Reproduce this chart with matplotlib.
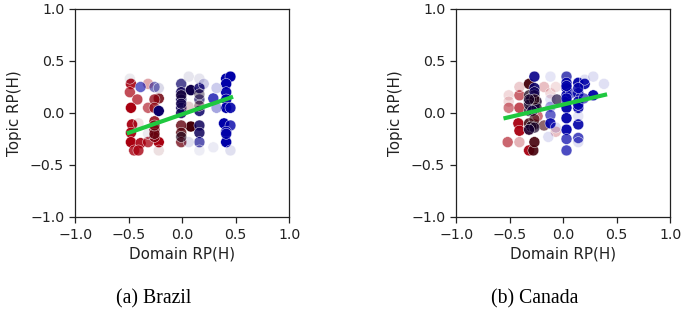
import numpy as np
import matplotlib
matplotlib.use("Agg")
import matplotlib.pyplot as plt
from matplotlib.colors import LinearSegmentedColormap

# tone : -1 red, 0 black, 1 blue
# Brazil
br_x = [-0.48,-0.49,-0.42,-0.48,-0.47,-0.48,-0.48,-0.39,-0.45,-0.41,-0.32,-0.32,-0.32,-0.22,-0.26,-0.26,-0.26,-0.22,-0.26,-0.26,
        -0.22,-0.01,-0.01,-0.01,-0.01,-0.01,0.08,0.08,-0.01,-0.01,-0.01,0.16,0.16,0.16,0.16,0.16,0.16,
        0.41,0.45,0.41,0.41,0.41,0.41,0.45,0.39,0.45,0.41,0.41,0.29,0.32,0.32,-0.39,-0.26,
        -0.49,0.06,0.16,0.2,0.06,-0.22,0.06,0.29,0.45,0.16,-0.22,-0.41,-0.32,
        -0.01,-0.01,-0.26,0.16,0.16,0.41,-0.01,-0.26]
br_y = [0.28,0.2,0.13,0.05,-0.11,-0.19,-0.28,-0.29,-0.36,-0.36,0.28,0.05,-0.28,-0.28,-0.08,-0.16,-0.23,0.14,0.13,0.05,
        0.02,0.28,0.2,0.13,0.05,0.0,0.22,-0.13,-0.12,-0.19,-0.28,0.24,0.13,0.02,-0.12,-0.19,-0.28,
        0.33,0.35,0.28,0.2,0.13,0.05,0.05,-0.1,-0.12,-0.18,-0.28,0.14,0.24,0.05,0.25,0.25,
        0.33,0.35,0.33,0.28,0.06,0.24,-0.28,-0.33,-0.36,-0.36,-0.36,-0.1,-0.2,
        0.17,0.09,-0.2,0.18,0.07,-0.2,-0.23,-0.12]
br_tone = [-1,-1,-1,-1,-1,-1,-1,-1,-1,-1,-1,-1,-1,-1,-0.8,-0.7,-0.7,-0.6,-0.8,-0.8,
           0.6,0.6,0.5,0.5,0.5,0.5,0.4,-0.3,-0.5,-0.4,-0.6,0.6,0.5,0.6,0.5,0.5,0.8,
           1,1,1,1,1,1,1,1,1,1,1,1,1,1,1,0.8,
           0.3,0.5,0.6,0.8,-0.6,0.6,0.7,0.8,0.8,0.7,-0.6,-0.7,0.4,
           0.3,0.4,-0.5,0.2,-0.2,1,0.1,-0.6]
br_alpha = [.9,.7,.7,1,.95,.95,1,.9,.8,.8,.35,.6,.75,1,.85,.85,.85,.85,.75,.75,
            1,.7,.85,.85,.85,.85,1,1,.8,.8,.75,.85,.65,.85,.85,.85,.65,
            1,1,1,.95,.95,1,.9,1,.8,.9,1,.75,.2,.35,.6,.5,
            .08,.1,.1,.2,.2,.15,.12,.08,.12,.07,.12,.12,.08,
            .8,.8,.8,.4,.4,.9,.6,.7]

# Canada
ca_x = [-0.51,-0.51,-0.51,-0.52,-0.41,-0.41,-0.41,-0.42,-0.41,-0.41,-0.32,-0.32,-0.28,-0.27,-0.27,-0.32,-0.32,-0.18,-0.18,-0.12,
        -0.07,-0.24,-0.12,-0.07,
        -0.27,-0.27,-0.32,-0.27,-0.32,-0.25,-0.27,-0.32,0.03,0.03,0.03,0.03,0.03,0.03,0.03,0.03,0.03,0.03,
        0.14,0.2,0.14,0.14,0.14,0.14,0.14,0.28,0.2,0.28,0.38,-0.12,-0.12,-0.12,-0.12,-0.06,-0.07,0.07,0.14,0.14,-0.14,
        -0.3,-0.27,-0.32,-0.25,-0.29,-0.27,-0.3,-0.27,-0.32,0.03,0.03,0.14,0.14,0.19,-0.27,-0.32]
ca_y = [0.17,0.11,0.05,-0.28,0.17,0.05,0.25,-0.1,-0.17,-0.28,0.28,-0.36,-0.36,-0.28,-0.11,-0.16,-0.1,0.25,-0.12,0.19,
        0.25,-0.03,0.13,-0.18,
        0.35,0.24,0.17,0.17,0.11,0.11,0.05,0.02,0.35,0.29,0.24,0.17,0.11,0.05,-0.05,-0.16,-0.25,-0.36,
        0.29,0.28,0.19,0.11,0.05,-0.11,-0.24,0.17,0.32,0.35,0.28,0.35,0.06,-0.02,-0.1,0.13,-0.14,0.19,-0.03,-0.28,-0.23,
        0.14,0.2,0.08,0.05,0.02,-0.06,-0.13,-0.14,-0.16,0.26,0.14,0.24,0.08,0.14,0.13,0.13]
ca_tone = [-1,-1,-1,-1,-1,-1,-1,-1,-1,-1,-0.3,-1,-0.3,-0.3,-0.2,-0.4,-0.2,-1,-0.3,-1,
           -1,-1,1,-1,
           0.8,0.6,0.1,0.1,0.3,0.2,0.8,0.2,0.9,1,1,1,1,1,1,1,1,1,
           1,1,1,1,1,1,1,1,1,1,1,1,1,1,1,0.3,1,1,1,1,1,
           0.3,0.5,0.2,0.1,0.4,-0.2,0.1,0.2,0.3,1,1,1,1,1,-0.1,0.2]
ca_alpha = [.15,.15,.5,.6,.6,.7,.2,.95,.95,.3,.95,.95,.9,.9,.8,.8,.85,.25,.6,.15,
            .12,.55,.1,.25,
            .9,.9,.75,.8,.7,.8,.9,.7,.7,.9,.9,.9,.9,.95,.95,.95,.7,.7,
            .95,.9,.9,.9,.9,.9,.7,.95,.12,.12,.12,.1,.35,.6,.9,.65,.12,.5,.1,.12,.12,
            .7,.7,.7,.7,.7,.6,.7,.7,.7,.9,.9,.8,.8,.6,.6,.6]

# fit lines
br_fit_x = [-0.5, 0.456]
br_fit_y = [-0.19, 0.15]
ca_fit_x = [-0.54, 0.39]
ca_fit_y = [-0.048, 0.175]

tick_vals = [-1.0, -0.5, 0.0, 0.5, 1.0]
captions = ["(a) Brazil", "(b) Canada"]

cmap = LinearSegmentedColormap.from_list("rb", ["#a80010", "#1a0008", "#0000a8"])

fig = plt.figure(figsize=(6.85, 3.14), dpi=100)
fig.patch.set_facecolor("white")


def panel(rect, xs, ys, tone, alpha, fx, fy):
    ax = fig.add_axes(rect)
    cols = cmap((np.array(tone) + 1) / 2)
    cols[:, 3] = alpha
    ax.scatter(xs, ys, s=62, c=cols, edgecolors="white", linewidths=0.3)
    ax.plot(fx, fy, color="#1fc83f", lw=3)
    ax.set_xlim(-1, 1)
    ax.set_ylim(-1, 1)
    ax.set_xticks(tick_vals)
    ax.set_yticks(tick_vals)
    ax.tick_params(labelsize=10.2, colors="#222222", pad=3.5, length=4.5, width=0.9)
    ax.set_xlabel("Domain RP(H)", fontsize=10.9, color="#222222", labelpad=3.5)
    ax.set_ylabel("Topic RP(H)", fontsize=10.9, color="#222222", labelpad=5.5)
    for s in ax.spines.values():
        s.set_linewidth(0.9)
        s.set_color("#222222")


panel([75.3 / 685, 1 - 217 / 314, 214 / 685, 208 / 314], br_x, br_y, br_tone, br_alpha, br_fit_x, br_fit_y)
panel([456.3 / 685, 1 - 217 / 314, 214 / 685, 208 / 314], ca_x, ca_y, ca_tone, ca_alpha, ca_fit_x, ca_fit_y)

fig.text(154 / 685, 1 - 299 / 314, captions[0], ha="center", va="center",
         family="Liberation Serif", fontsize=14.2, color="black")
fig.text(534.5 / 685, 1 - 299 / 314, captions[1], ha="center", va="center",
         family="Liberation Serif", fontsize=14.2, color="black")

fig.savefig("out.png", dpi=100)
